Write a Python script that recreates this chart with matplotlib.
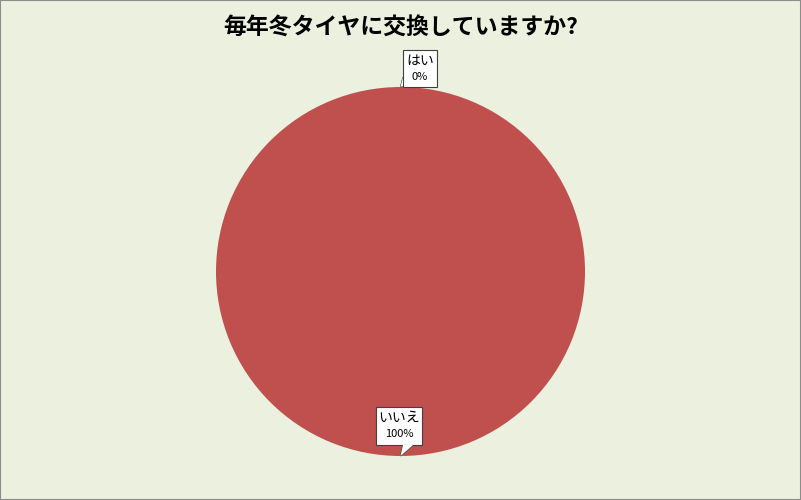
import matplotlib.pyplot as plt
from matplotlib.patches import Polygon, Rectangle
import numpy as np

plt.rcParams['font.family'] = ['Noto Sans CJK JP', 'DejaVu Sans']

# データ
labels = ['はい', 'いいえ']
values = [0, 100]
title = '毎年冬タイヤに交換していますか?'

W, H = 801, 500
fig = plt.figure(figsize=(W / 100, H / 100), dpi=100)
fig.patch.set_facecolor('#EBF1DE')
fig.patches.append(Rectangle((0, 0), 1, 1, transform=fig.transFigure,
                             fill=False, edgecolor='#8C8C8C', linewidth=1.5))

# 円の位置 (中心 400.5, 271.5 / 半径 184.5 px)
cx, cy, r = 400.5, 271.5, 184.5
ax = fig.add_axes([(cx - r) / W, (H - cy - r) / H, 2 * r / W, 2 * r / H])
ax.set_facecolor('none')

wedges, _ = ax.pie(values, colors=['#4F81BD', '#C0504D'], startangle=90,
                   counterclock=False, radius=1,
                   wedgeprops=dict(linewidth=0))
ax.set_xlim(-1, 1)
ax.set_ylim(-1, 1)
ax.set_aspect('equal')
ax.axis('off')

fig.text(0.5, 1 - 28 / H, title, ha='center', va='center',
         fontsize=16.5, fontweight='bold')

# ラベル (吹き出し)
def px(x, y):
    return ((x - cx) / r, (cy - y) / r)

total = sum(values)
box_px = {0: (403, 50, 437, 87), 1: (376, 407, 422, 445)}
for i, (w, lab, v) in enumerate(zip(wedges, labels, values)):
    ang = np.deg2rad((w.theta1 + w.theta2) / 2)
    tip = (np.cos(ang), np.sin(ang))
    x0, y0, x1, y1 = box_px[i]
    bl = px(x0, y1)
    tr = px(x1, y0)
    ax.add_patch(Rectangle(bl, tr[0] - bl[0], tr[1] - bl[1], facecolor='white',
                           edgecolor='#404040', linewidth=0.8, clip_on=False, zorder=5))
    if i == 0:
        p1, p2 = px(x0, y1 - 10), px(x0, y1 - 1)
    else:
        p1, p2 = px(403, y1), px(413, y1)
    ax.add_patch(Polygon([p1, tip, p2], closed=True, facecolor='white',
                         edgecolor='#404040', linewidth=0.8, clip_on=False, zorder=4))
    ax.add_patch(Polygon([p1, tip, p2], closed=True, facecolor='white',
                         edgecolor='none', clip_on=False, zorder=6))
    mx = (x0 + x1) / 2
    ax.text(*px(mx, y0 + 11), lab, ha='center', va='center', fontsize=10,
            zorder=7, clip_on=False)
    ax.text(*px(mx, y0 + 27), f'{v / total * 100:.0f}%', ha='center', va='center',
            fontsize=8, zorder=7, clip_on=False)

plt.savefig('out.png', dpi=100, facecolor=fig.get_facecolor())
